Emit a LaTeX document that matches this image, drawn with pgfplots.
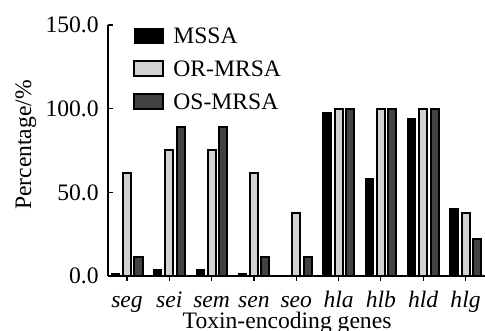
\documentclass[border=0pt]{standalone}
\usepackage{pgfplots}
\pgfplotsset{compat=1.18}
\usepackage{fontspec}
\setmainfont{Liberation Serif}
\definecolor{lightbar}{RGB}{210,210,210}
\definecolor{darkbar}{RGB}{66,66,66}
\begin{document}
\begin{tikzpicture}
\begin{axis}[
  at={(0,0)}, anchor=south west,
  scale only axis, width=188.5bp, height=125.5bp,
  xmin=-0.449, xmax=8.46, ymin=0, ymax=150,
  axis x line=bottom, axis y line=left,
  axis line style={line width=0.65bp, -},
  ytick={0,50,100,150},
  xtick={0,...,8},
  xticklabels={seg,sei,sem,sen,seo,hla,hlb,hld,hlg},
  tick align=inside,
  major tick length=2.5bp,
  tick style={line width=0.6bp, black},
  font=\fontsize{11.8bp}{13bp}\selectfont,
  xticklabel style={font=\fontsize{11.8bp}{13bp}\selectfont\itshape, anchor=base, yshift=-13bp, inner sep=0pt},
  yticklabel style={font=\fontsize{11.8bp}{13bp}\selectfont, anchor=east, inner sep=0pt, xshift=-4.5bp},
  /pgf/number format/.cd, fixed, fixed zerofill, precision=1, assume math mode=true, /pgfplots/.cd,
  xlabel={Toxin-encoding genes},
  ylabel={Percentage/\%},
  xlabel style={font=\fontsize{11.8bp}{13bp}\selectfont, at={(axis description cs:0.475,-0.2072)}, anchor=base, inner sep=0pt},
  ylabel style={font=\fontsize{11.8bp}{13bp}\selectfont, at={(axis description cs:-0.2042,0.522)}, anchor=base, inner sep=0pt, rotate=0},
  ybar, bar width=0.19,
  legend image code/.code={\draw[#1, bar shift=0pt] (0bp,-3.75bp) rectangle (14.5bp,3.75bp);},
  legend style={draw=none, fill=none, at={(axis description cs:0.0663,0.9885)}, anchor=north west,
    inner sep=0pt, row sep=8bp, column sep=0pt,
    nodes={inner sep=0pt, text height=7.6bp, text depth=0pt},
    /tikz/every odd column/.append style={column sep=4.5bp},
    font=\fontsize{11.8bp}{13bp}\selectfont},
  legend cell align=left,
]
\addplot[fill=black, draw=black, line width=0.6bp, bar shift=-0.272] coordinates {
 (0,1.6) (1,3.8) (2,3.8) (3,1.6) (4,0) (5,97.8) (6,58) (7,94) (8,40)};
\addplot[fill=lightbar, draw=black, line width=1bp, bar shift=0] coordinates {
 (0,61.5) (1,75) (2,75) (3,61.5) (4,37.5) (5,100) (6,100) (7,100) (8,37.5)};
\addplot[fill=darkbar, draw=black, line width=1bp, bar shift=0.272] coordinates {
 (0,11.1) (1,88.9) (2,88.9) (3,11.1) (4,11.1) (5,100) (6,100) (7,100) (8,22.2)};
\legend{MSSA,OR-MRSA,OS-MRSA}
\end{axis}
\pgfresetboundingbox
\useasboundingbox (-54bp,-27.5bp) rectangle (188.5bp,138bp);
\end{tikzpicture}
\end{document}
